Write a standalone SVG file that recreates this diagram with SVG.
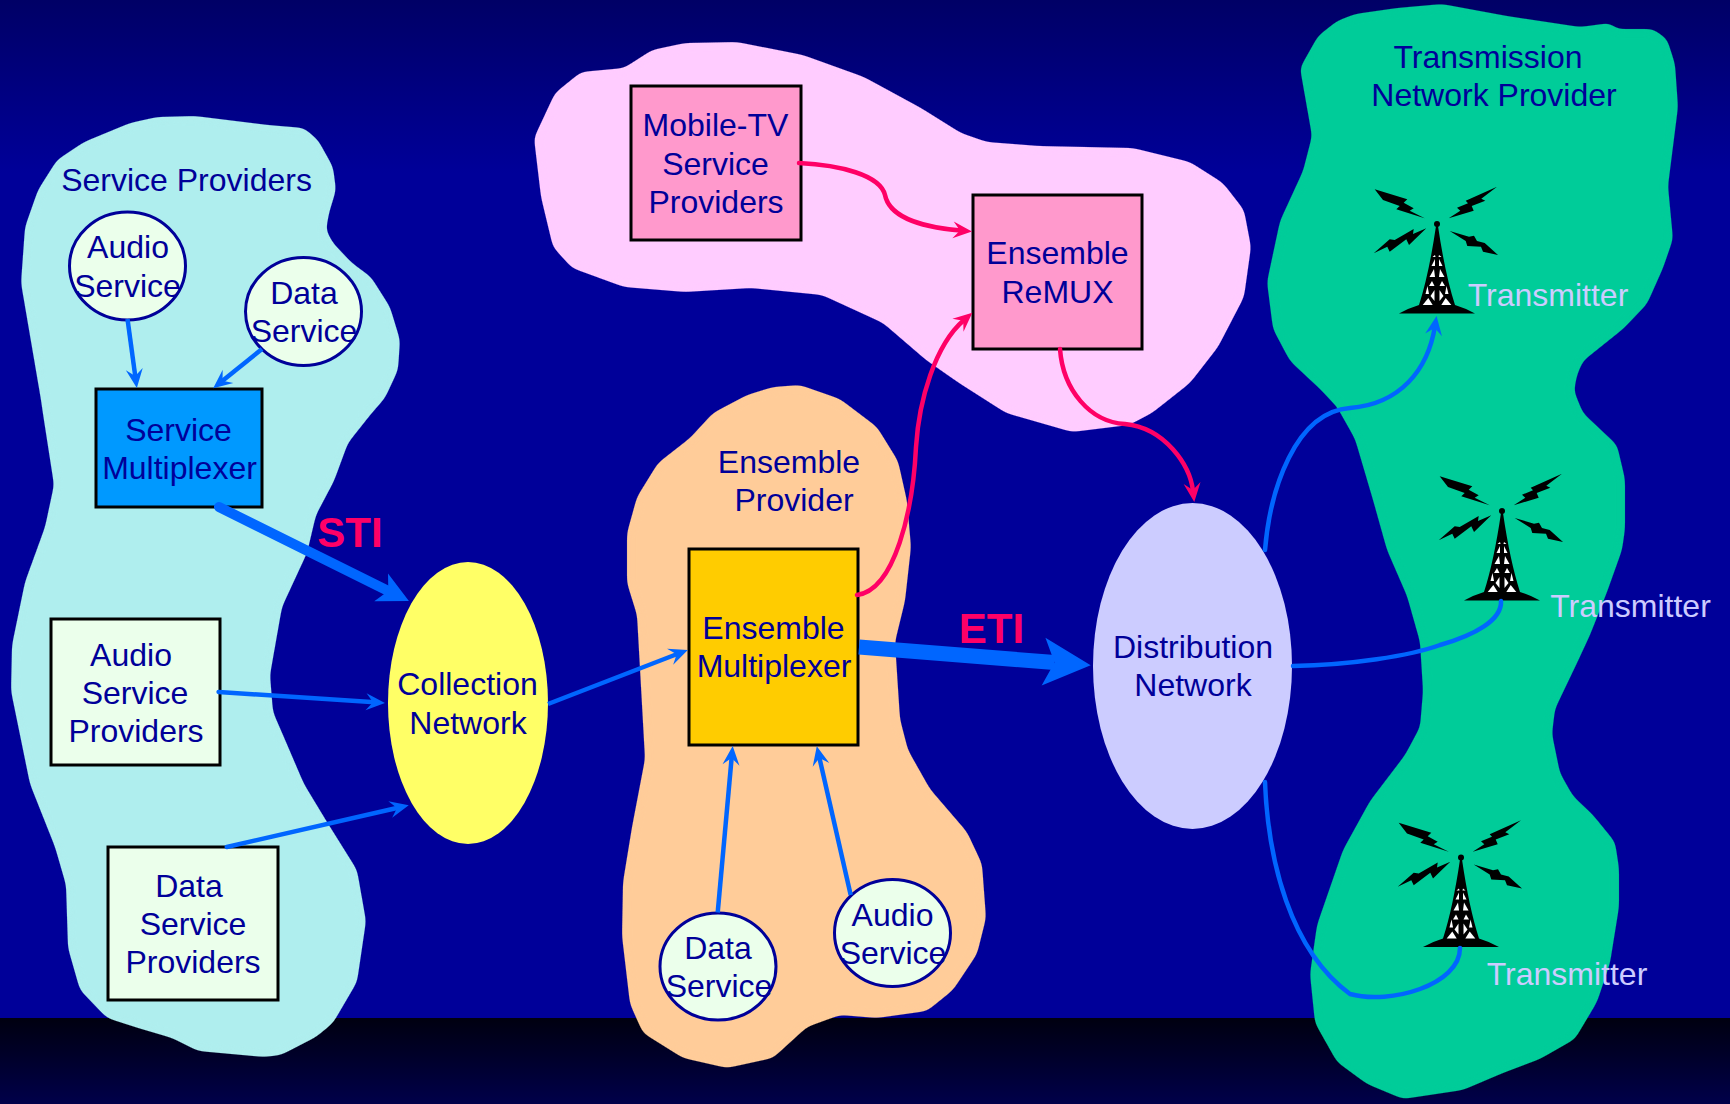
<svg xmlns="http://www.w3.org/2000/svg" xmlns:xlink="http://www.w3.org/1999/xlink" width="1730" height="1104" viewBox="0 0 1730 1104">
<style>
text{font-family:"Liberation Sans",Arial,sans-serif;font-size:32px;fill:#000099;text-anchor:middle}
.tx{fill:#CCCCFF}
.iface{font-weight:bold;font-size:42px;fill:#FF0066}
.box{stroke:#000;stroke-width:3}
.pale{fill:#EBFFEB}
.circ{fill:#EBFFEB;stroke:#000099;stroke-width:3}
.blob{filter:url(#smooth)}
.b{fill:none;stroke:#0066FF;stroke-width:4.5}
.p{fill:none;stroke:#FF0066;stroke-width:4.5;stroke-linecap:round}
.r{stroke-linecap:round}
</style>
<defs>
<filter id="smooth" filterUnits="userSpaceOnUse" x="0" y="0" width="1730" height="1104" color-interpolation-filters="sRGB"><feGaussianBlur stdDeviation="4"/><feComponentTransfer><feFuncA type="linear" slope="10" intercept="-4.5"/></feComponentTransfer></filter>
<linearGradient id="sky" x1="0" y1="0" x2="0" y2="1"><stop offset="0" stop-color="#000066"/><stop offset="0.17" stop-color="#000099"/></linearGradient>
<linearGradient id="ground" x1="0" y1="0" x2="0" y2="1"><stop offset="0" stop-color="#000010"/><stop offset="1" stop-color="#00004A"/></linearGradient>
<marker id="ab" markerUnits="userSpaceOnUse" orient="auto" markerWidth="30" markerHeight="30" refX="15" refY="15" overflow="visible"><path d="M25,15 L6,6.500 L13,15 L6,23.500 Z" fill="#0066FF"/></marker>
<marker id="ap" markerUnits="userSpaceOnUse" orient="auto" markerWidth="30" markerHeight="30" refX="15" refY="15" overflow="visible"><path d="M26,15 L7,6.500 L14,15 L7,23.500 Z" fill="#FF0066"/></marker>
<marker id="asti" markerUnits="userSpaceOnUse" orient="auto" markerWidth="60" markerHeight="60" refX="30" refY="30" overflow="visible"><path d="M53,30 L22,14.500 L30,30 L22,45.500 Z" fill="#0066FF"/></marker>
<marker id="aeti" markerUnits="userSpaceOnUse" orient="auto" markerWidth="80" markerHeight="80" refX="40" refY="40" overflow="visible"><path d="M76.300,40 L29,16 L40,40 L29,64 Z" fill="#0066FF"/></marker>
<g id="tower">
<polygon points="-62.300,-34.700 -29.700,-24.700 -33.300,-21.300 -23.300,-15.700 -27.300,-13.300 -12.300,-5.700 -40.700,-14.700 -37.300,-18 -54,-24"/>
<polygon points="60,-37.300 28.700,-23.300 31,-20.700 20,-16.300 23.300,-13.300 11.700,-5.700 36.700,-13.300 34.700,-18 48.300,-23.300 44.300,-25.300"/>
<polygon points="-63.300,29.300 -47.300,15.300 -42.300,16 -23.300,5 -24,10 -10.700,4.300 -28,21 -30.700,15.300 -47.300,27.700 -49.700,22.700"/>
<polygon points="12.700,7 32,12.700 37,11.700 40,17 47.700,19 61,31 46,27.700 44,22.700 30.300,22 28.700,17"/>
<circle cx="0" cy="0" r="3"/>
<path d="M-1,2 Q-8,50 -18,81 Q-28,84 -38,89.500 L38,89.500 Q28,84 18,81 Q8,50 1,2 Z"/>
<g fill="#fff" id="lat"><polygon points="4.300,81 14.300,81 8.700,74"/><polygon points="2.500,77 2.500,66 6.500,72"/><polygon points="8,70 11.500,70 9.500,62"/><polygon points="2.500,62 8,62 5,57"/><polygon points="2,53 7.500,53 3,45"/><polygon points="2,42 5.500,42 2,35"/><polygon points="1.500,33 4.500,33 2,31"/></g>
<use xlink:href="#lat" href="#lat" transform="scale(-1,1)"/>
</g>
</defs>
<rect width="1730" height="1018" fill="url(#sky)"/>
<rect y="1018" width="1730" height="86" fill="url(#ground)"/>
<g id="service-providers-region">
<polygon class="blob" fill="#AFEEEE" points="157,117 195,116 268,125 304,128 318,140 333,167 336,190 329,213 326,230 333,243 352,263 371,277 390,307 400,340 398,370 385,398 371,414 348,443 334,481 316,515 307,553 282,607 270,675 273,712 286,742 304,784 327,822 357,870 366,921 357,982 333,1023 316,1037 281,1055 264,1057 198,1051 172,1038 138,1028 107,1018 80,990 68,948 66,885 55,847 30,784 11,691 12,645 25,582 45,527 54,485 43,414 41,400 21,283 25,227 38,190 57,160 84,142 130,123"/>
<text x="186.500" y="191">Service Providers</text>
</g>
<g id="mobile-tv-region">
<polygon class="blob" fill="#FFCCFF" points="685,43 737,42 803,55 864,77 921,108 961,133 987,142 1039,146 1133,148 1190,162 1223,183 1244,210 1251,247 1244,297 1218,347 1190,383 1152,413 1129,425 1072,432 1006,413 959,383 926,360 883,323 822,295 751,288 685,292 624,287 572,268 553,247 541,197 534,138 555,93 581,72 624,68 652,50"/>
</g>
<g id="ensemble-provider-region">
<polygon class="blob" fill="#FFCC99" points="773,387 800,385 840,399 877,427 898,461 907,501 911,547 905,601 895,642 900,719 908,750 930,789 967,832 982,864 986,918 977,954 953,990 927,1011 877,1018 840,1015 807,1027 773,1058 727,1068 683,1058 643,1033 630,1004 622,936 623,882 632,827 645,759 640,669 637,615 627,583 627,533 637,497 658,463 690,438 713,413 747,395"/>
<text x="789" y="473">Ensemble</text>
<text x="794" y="511">Provider</text>
</g>
<g id="transmission-region">
<polygon class="blob" fill="#00CC99" points="1397,8 1442,4 1507,16 1580,27 1610,23 1617,29 1653,29 1667,39 1675,64 1678,107 1668,186 1673,239 1663,268 1647,304 1623,329 1583,361 1577,375 1574,391 1583,413 1617,445 1625,479 1625,529 1622,550 1607,592 1590,635 1577,663 1555,709 1552,734 1560,773 1573,796 1593,815 1615,842 1619,868 1619,907 1610,963 1597,1002 1575,1039 1540,1059 1503,1073 1463,1090 1403,1099 1367,1084 1337,1062 1315,1023 1310,974 1317,925 1343,850 1370,801 1405,755 1420,727 1423,691 1420,642 1407,596 1387,550 1373,500 1355,439 1337,407 1320,389 1290,361 1273,329 1267,282 1280,221 1303,171 1312,136 1300,68 1318,36 1337,21 1355,14"/>
<text x="1488" y="68">Transmission</text>
<text x="1494" y="106">Network Provider</text>
</g>
<g id="audio-service-1"><ellipse class="circ" cx="127.500" cy="266" rx="58" ry="54"/><text x="128" y="258">Audio</text><text x="127.500" y="297">Service</text></g>
<g id="data-service-1"><ellipse class="circ" cx="303.500" cy="311.500" rx="58" ry="54"/><text x="304" y="304">Data</text><text x="304" y="342">Service</text></g>
<g id="service-multiplexer"><rect class="box" x="96" y="389" width="166" height="118" fill="#0099FF"/><text x="178.500" y="441">Service</text><text x="179.500" y="479">Multiplexer</text></g>
<g id="audio-service-providers"><rect class="box pale" x="51" y="619" width="169" height="146"/><text x="131" y="666">Audio</text><text x="135" y="704">Service</text><text x="136" y="742">Providers</text></g>
<g id="data-service-providers"><rect class="box pale" x="108" y="847" width="170" height="153"/><text x="189" y="897">Data</text><text x="193" y="935">Service</text><text x="193" y="973">Providers</text></g>
<g id="collection-network"><ellipse cx="468" cy="703" rx="80" ry="141" fill="#FFFF66"/><text x="467.500" y="695">Collection</text><text x="468" y="733.500">Network</text></g>
<g id="mobile-tv-service-providers"><rect class="box" x="631" y="86" width="170" height="154" fill="#FF99CC"/><text x="715.500" y="136">Mobile-TV</text><text x="715.500" y="175">Service</text><text x="716" y="213">Providers</text></g>
<g id="ensemble-remux"><rect class="box" x="973" y="195" width="169" height="154" fill="#FF99CC"/><text x="1057.500" y="264">Ensemble</text><text x="1057.500" y="303">ReMUX</text></g>
<g id="ensemble-multiplexer"><rect class="box" x="689" y="549" width="169" height="196" fill="#FFCC00"/><text x="773.500" y="638.500">Ensemble</text><text x="774" y="677">Multiplexer</text></g>
<g id="data-service-2"><ellipse class="circ" cx="718" cy="966.500" rx="58" ry="53.500"/><text x="718" y="959">Data</text><text x="719" y="997">Service</text></g>
<g id="audio-service-2"><ellipse class="circ" cx="892.500" cy="933" rx="58" ry="53.500"/><text x="892.500" y="926">Audio</text><text x="893" y="964">Service</text></g>
<g id="distribution-network"><ellipse cx="1192.500" cy="666" rx="99.500" ry="163" fill="#CCCCFF"/><text x="1193" y="658">Distribution</text><text x="1193" y="696">Network</text></g>
<g id="transmitter-1"><use xlink:href="#tower" href="#tower" x="1437" y="224"/><text class="tx" x="1548" y="306">Transmitter</text></g>
<g id="transmitter-2"><use xlink:href="#tower" href="#tower" x="1502" y="511"/><text class="tx" x="1630.500" y="617">Transmitter</text></g>
<g id="transmitter-3"><use xlink:href="#tower" href="#tower" x="1461" y="857.500"/><text class="tx" x="1567" y="985">Transmitter</text></g>
<g id="connectors">
<path class="b" d="M127.500,319 L135.500,378" marker-end="url(#ab)"/>
<path class="b" d="M262,349 L221,382" marker-end="url(#ab)"/>
<path class="b r" style="stroke-width:10" d="M219,507 L388.300,590.900" marker-end="url(#asti)"/>
<path class="b r" d="M218.600,692 L375,702.300" marker-end="url(#ab)"/>
<path class="b r" d="M226.800,847 L399,807.500" marker-end="url(#ab)"/>
<path class="b" d="M548,704 L678.500,653.500" marker-end="url(#ab)"/>
<path class="b" d="M717.700,912.500 L731.800,756" marker-end="url(#ab)"/>
<path class="b" d="M850.700,895 L819,756" marker-end="url(#ab)"/>
<path class="b" style="stroke-width:15" d="M859,647 L1054.500,662.500" marker-end="url(#aeti)"/>
<path class="p" d="M799,163 C840,165 880,175 885,195 C890,220 930,228 961,230.500" marker-end="url(#ap)"/>
<path class="p" d="M857,595 C895,590 913,510 916,447 C919,400 935,345 964,320" marker-end="url(#ap)"/>
<path class="p" d="M1060,349 C1063,390 1090,422 1125,424 C1165,428 1190,465 1193,491" marker-end="url(#ap)"/>
<path class="b r" d="M1265,550 C1270,490 1295,412 1350,408 C1400,404 1428,370 1435,326" marker-end="url(#ab)"/>
<path class="b r" d="M1293,666 C1350,665 1410,656 1440,645 C1475,635 1502,620 1501,601"/>
<path class="b r" d="M1265,782 C1268,860 1290,950 1350,994 C1390,1005 1460,985 1460,948"/>
<text class="iface" x="350" y="547">STI</text>
<text class="iface" x="991.500" y="643">ETI</text>
</g>
</svg>
